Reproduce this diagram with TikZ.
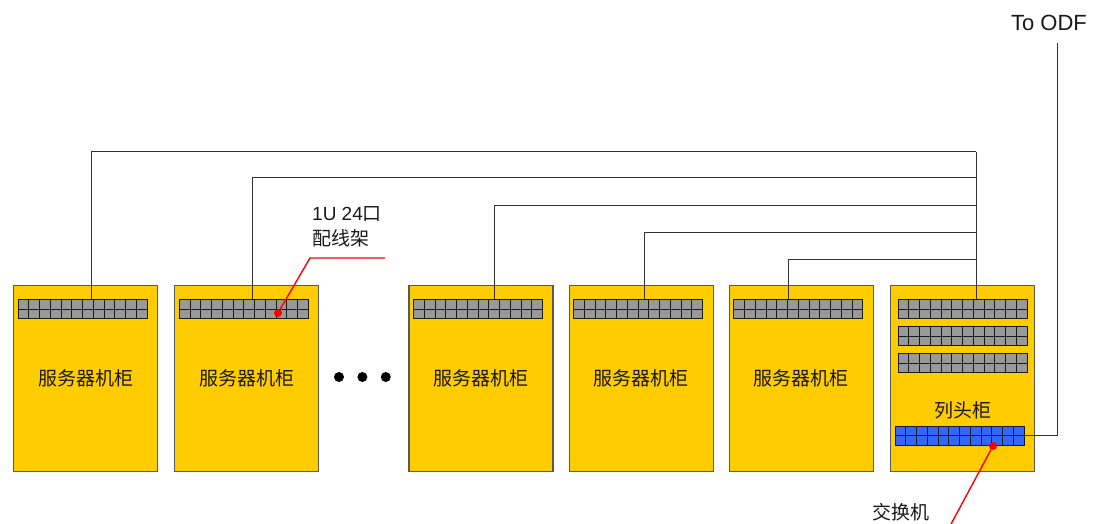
\documentclass[tikz,border=0pt]{standalone}
\usepackage{fontspec}
\setmainfont{Liberation Sans}
\newfontfamily\cjk{Noto Sans CJK SC}
\usepackage{xcolor}
\usetikzlibrary{positioning,calc}

\definecolor{rackyellow}{HTML}{FFCC00}
\definecolor{portgray}{HTML}{999999}
\definecolor{switchblue}{HTML}{3366FF}

\begin{document}
\begin{tikzpicture}[x=1pt, y=-1pt,
		cabinet/.style={rectangle, draw=black!65, fill=rackyellow, line width=1.2pt, minimum width=144pt, minimum height=186pt, inner sep=0pt, font=\cjk\fontsize{19}{22}\selectfont, text=black!90},
		panel/.style={rectangle, draw=black!90, fill=portgray, line width=1pt, minimum width=129pt, minimum height=19pt, inner sep=0pt,
			path picture={
				\foreach \i in {1,...,11}
					\draw[black!90, line width=1pt] ($(path picture bounding box.south west)!\i/12!(path picture bounding box.south east)$) -- ($(path picture bounding box.north west)!\i/12!(path picture bounding box.north east)$);
				\draw[black!90, line width=1pt] (path picture bounding box.west) -- (path picture bounding box.east);
			}},
		switchbox/.style={panel, fill=switchblue},
		cable/.style={draw=black!80, line width=1pt},
		pointer/.style={draw=red, line width=1.4pt},
		reddot/.style={circle, fill=red, inner sep=0pt, minimum size=8pt},
		bigdot/.style={circle, fill=black, inner sep=0pt, minimum size=10pt},
		note/.style={font=\cjk\fontsize{19}{25}\selectfont, text=black!90, inner sep=0pt},
		]
		\useasboundingbox (0,0) rectangle (1106,524);

		%Cabinets
		\node[cabinet, anchor=north west]	(cab1)	at (13,285)		{服务器机柜};
		\node[cabinet]	(cab2)	[right=16pt of cab1]	{服务器机柜};
		\node[cabinet]	(cab3)	[right=89pt of cab2]	{服务器机柜};
		\node[cabinet]	(cab4)	[right=15pt of cab3]	{服务器机柜};
		\node[cabinet]	(cab5)	[right=15pt of cab4]	{服务器机柜};
		\node[cabinet]	(cab6)	[right=16pt of cab5]	{};

		%Dots
		\node[bigdot]	(dot1)	at (339,377)	{};
		\node[bigdot]	(dot2)	[right=13pt of dot1]	{};
		\node[bigdot]	(dot3)	[right=13pt of dot2]	{};

		%Patch panels
		\node[panel]	(p1)	[below=14pt of cab1.north, xshift=-3pt]	{};
		\node[panel]	(p2)	[below=14pt of cab2.north, xshift=-3pt]	{};
		\node[panel]	(p3)	[below=14pt of cab3.north, xshift=-3pt]	{};
		\node[panel]	(p4)	[below=14pt of cab4.north, xshift=-3pt]	{};
		\node[panel]	(p5)	[below=14pt of cab5.north, xshift=-3pt]	{};

		%Head cabinet
		\node[panel]	(h1)	[below=14pt of cab6.north]	{};
		\node[panel]	(h2)	[below=7pt of h1]	{};
		\node[panel]	(h3)	[below=7pt of h2]	{};
		\node[note]		(headlbl)	[below=28pt of h3]	{列头柜};
		\node[switchbox]	(sw)	[below=7pt of headlbl, xshift=-3pt]	{};

		%Cables to head cabinet
		\coordinate (bus1) at (976,152);
		\coordinate (bus2) at (976,178);
		\coordinate (bus3) at (976,205);
		\coordinate (bus4) at (976,232);
		\coordinate (bus5) at (976,259);
		\draw[cable]	([xshift=8.5pt]p1.north)	|-	(bus1);
		\draw[cable]	([xshift=8.5pt]p2.north)	|-	(bus2);
		\draw[cable]	([xshift=16pt]p3.north)		|-	(bus3);
		\draw[cable]	([xshift=6.5pt]p4.north)	|-	(bus4);
		\draw[cable]	([xshift=-9.5pt]p5.north)	|-	(bus5);
		\draw[cable]	(bus1)	--	(h1.north -| bus1);

		%ODF uplink
		\node[font=\fontsize{22}{26}\selectfont, text=black!90, inner sep=0pt]	(odf)	at (1049,23)	{To ODF};
		\coordinate (odfin) at (1057,43);
		\draw[cable]	(sw.east)	-|	(odfin);

		%Patch panel callout
		\node[reddot]	(ppdot)		at (278,313)	{};
		\coordinate (ppbend) at (310,258);
		\coordinate (ppend) at (385,258);
		\node[note, align=left, anchor=north west]	(pplbl)	at (312,206)	{\fontspec{Liberation Sans}1U 24{\cjk 口}\\配线架};
		\draw[pointer]	(ppdot)	--	(ppbend)	--	(ppend);

		%Switch callout
		\node[reddot]	(swdot)		at (993,446)	{};
		\coordinate (swend) at (950,526);
		\node[note]	(swlbl)	at (901,512)	{交换机};
		\draw[pointer]	(swdot)	--	(swend);
	\end{tikzpicture}
\end{document}
